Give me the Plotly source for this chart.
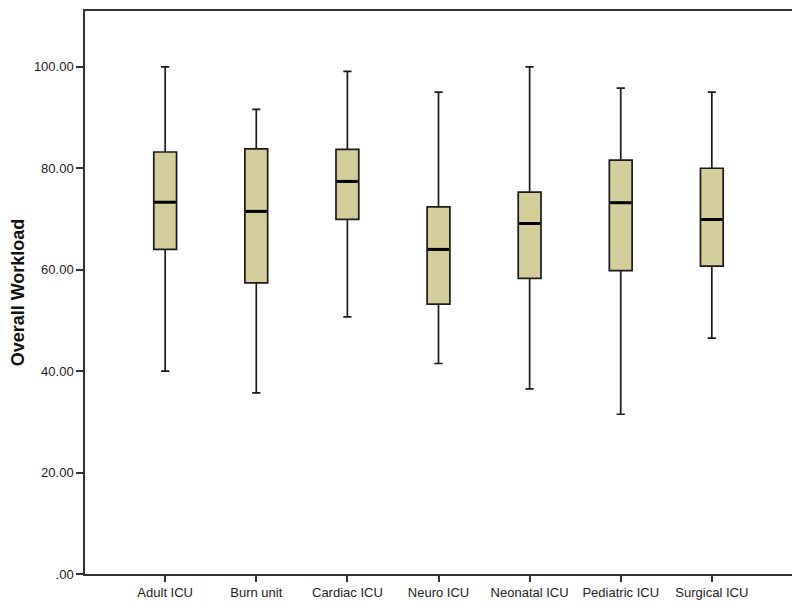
import plotly.graph_objects as go

categories = ["Adult ICU", "Burn unit", "Cardiac ICU", "Neuro ICU", "Neonatal ICU", "Pediatric ICU", "Surgical ICU"]
lower = [40.0, 35.7, 50.7, 41.5, 36.5, 31.5, 46.5]
q1 = [64.0, 57.4, 69.9, 53.2, 58.3, 59.8, 60.7]
median = [73.3, 71.5, 77.4, 64.0, 69.1, 73.2, 69.9]
q3 = [83.2, 83.8, 83.7, 72.4, 75.3, 81.6, 80.0]
upper = [100.0, 91.6, 99.1, 95.0, 100.0, 95.8, 95.0]
y_ticks = [0, 20, 40, 60, 80, 100]
y_ticklabels = [".00", "20.00", "40.00", "60.00", "80.00", "100.00"]

xs = list(range(len(categories)))
box_w = 0.25

fig = go.Figure()
fig.add_trace(go.Box(
    x=xs, q1=q1, median=median, q3=q3, lowerfence=lower, upperfence=upper,
    width=box_w, whiskerwidth=0.36,
    fillcolor="rgb(212,207,154)",
    line=dict(color="#1a1a1a", width=1.7),
    boxpoints=False, hoverinfo="skip", showlegend=False,
))
# thicker median lines
mx, my = [], []
for i, m in zip(xs, median):
    mx += [i - box_w / 2 + 0.01, i + box_w / 2 - 0.01, None]
    my += [m, m, None]
fig.add_trace(go.Scatter(x=mx, y=my, mode="lines", line=dict(color="black", width=3),
                         showlegend=False, hoverinfo="skip"))

# page body has an 8px default margin, so the figure is sized/offset to compensate
fig.update_layout(
    width=792, height=600,
    margin=dict(l=77, r=8, t=1, b=34),
    plot_bgcolor="white", paper_bgcolor="white",
    font=dict(family="Arial, Liberation Sans, sans-serif", size=13, color="#222"),
)
fig.update_xaxes(
    range=[-0.88, 6.88], tickvals=xs, ticktext=categories,
    showgrid=False, zeroline=False, showline=True, linecolor="#333", linewidth=1.5,
    mirror=True, ticks="outside", ticklen=6, tickwidth=1.5, tickcolor="#333",
    tickfont=dict(size=13, color="#222"),
)
fig.update_yaxes(
    range=[0, 111], tickvals=y_ticks, ticktext=y_ticklabels,
    showgrid=False, zeroline=False, showline=True, linecolor="#333", linewidth=1.5,
    mirror=True, ticks="outside", ticklen=7, tickwidth=1.5, tickcolor="#333",
    tickfont=dict(size=13, color="#222"),
    title=dict(text="<b>Overall Workload</b>", font=dict(size=18, color="#111"), standoff=12),
)
fig.write_html("out.html")
